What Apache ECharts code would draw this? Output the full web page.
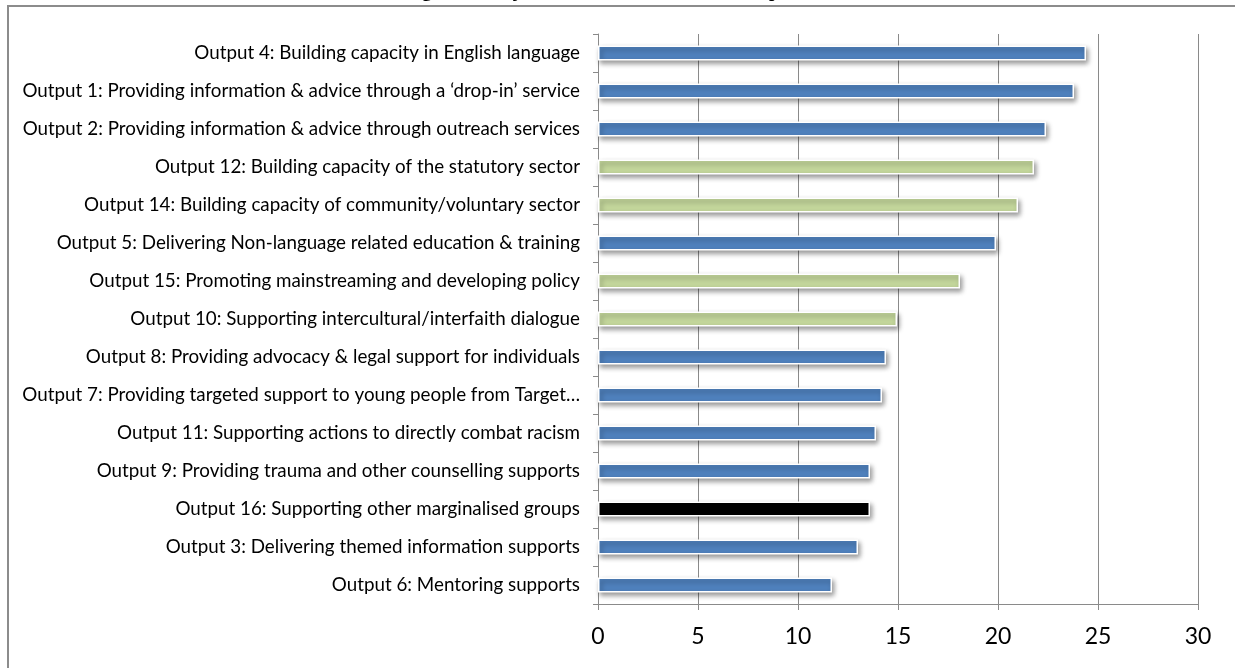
<!DOCTYPE html>
<html>
<head>
<meta charset="utf-8">
<script src="https://cdn.jsdelivr.net/npm/echarts@6/dist/echarts.min.js"></script>
<style>
  html, body { margin: 0; padding: 0; background: #fff; }
  #chart { width: 1235px; height: 668px; }
</style>
</head>
<body>
<div id="chart"></div>
<script>
// Outputs, listed top to bottom
const categories = [
  'Output 4: Building capacity in English language',
  'Output 1: Providing information & advice through a \u2018drop-in\u2019 service',
  'Output 2: Providing information & advice through outreach services',
  'Output 12: Building capacity of the statutory sector',
  'Output 14: Building capacity of community/voluntary sector',
  'Output 5: Delivering Non-language related education & training',
  'Output 15: Promoting mainstreaming and developing policy',
  'Output 10: Supporting intercultural/interfaith dialogue',
  'Output 8: Providing advocacy & legal support for individuals',
  'Output 7: Providing targeted support to young people from Target\u2026',
  'Output 11: Supporting actions to directly combat racism',
  'Output 9: Providing trauma and other counselling supports',
  'Output 16: Supporting other marginalised groups',
  'Output 3: Delivering themed information supports',
  'Output 6: Mentoring supports'
];

const values = [24.4, 23.8, 22.4, 21.8, 21.0, 19.9, 18.1, 14.95, 14.4, 14.2, 13.9, 13.6, 13.6, 13.0, 11.7];

// Output type for each row
const groups = ['service', 'service', 'service', 'capacity', 'capacity', 'service', 'capacity',
  'capacity', 'service', 'service', 'service', 'service', 'other', 'service', 'service'];

const xTicks = [0, 5, 10, 15, 20, 25, 30];

const titleText = 'Figure 4: Projected Level of Influence of Outputs on Outcomes';

const groupColor = { service: '#4f81bd', capacity: '#c3d69b', other: '#000000' };

const chart = echarts.init(document.getElementById('chart'), null, { renderer: 'canvas' });

const labelFont = 'Lato, "Open Sans", sans-serif';

chart.setOption({
  animation: false,
  backgroundColor: '#ffffff',
  grid: { left: 598, right: 37, top: 34, bottom: 64, containLabel: false },
  xAxis: {
    type: 'value',
    min: xTicks[0],
    max: xTicks[xTicks.length - 1],
    interval: 5,
    axisLine: { show: true, lineStyle: { color: '#8a8a8a', width: 1 } },
    axisTick: { show: true, length: 6, lineStyle: { color: '#8a8a8a' } },
    splitLine: { show: true, lineStyle: { color: '#8a8a8a', width: 1 } },
    axisLabel: { color: '#000', fontSize: 23, fontFamily: labelFont, margin: 21 }
  },
  yAxis: {
    type: 'category',
    inverse: true,
    data: categories,
    axisLine: { show: true, lineStyle: { color: '#8a8a8a', width: 1 } },
    axisTick: { show: true, length: 5, lineStyle: { color: '#8a8a8a' } },
    axisLabel: { color: '#000', fontSize: 18.8, fontFamily: labelFont, margin: 18 }
  },
  series: [{
    type: 'bar',
    barWidth: 15,
    data: values.map((v, i) => ({
      value: v,
      itemStyle: { color: groupColor[groups[i]] }
    })),
    itemStyle: {
      borderColor: '#ffffff',
      borderWidth: 1.5,
      shadowColor: 'rgba(0,0,0,0.4)',
      shadowBlur: 5,
      shadowOffsetX: 2,
      shadowOffsetY: 3
    }
  }],
  graphic: [
    {
      type: 'rect',
      z: 100,
      silent: true,
      shape: { x: 8, y: 6, width: 1300, height: 800 },
      style: { fill: 'none', stroke: '#8c8c8c', lineWidth: 2 }
    },
    {
      type: 'text',
      z: 100,
      silent: true,
      x: 660,
      y: 1.5,
      style: {
        text: titleText,
        font: 'bold 19px "Liberation Serif", serif',
        fill: '#000',
        align: 'center',
        verticalAlign: 'bottom'
      }
    }
  ]
});
</script>
</body>
</html>
